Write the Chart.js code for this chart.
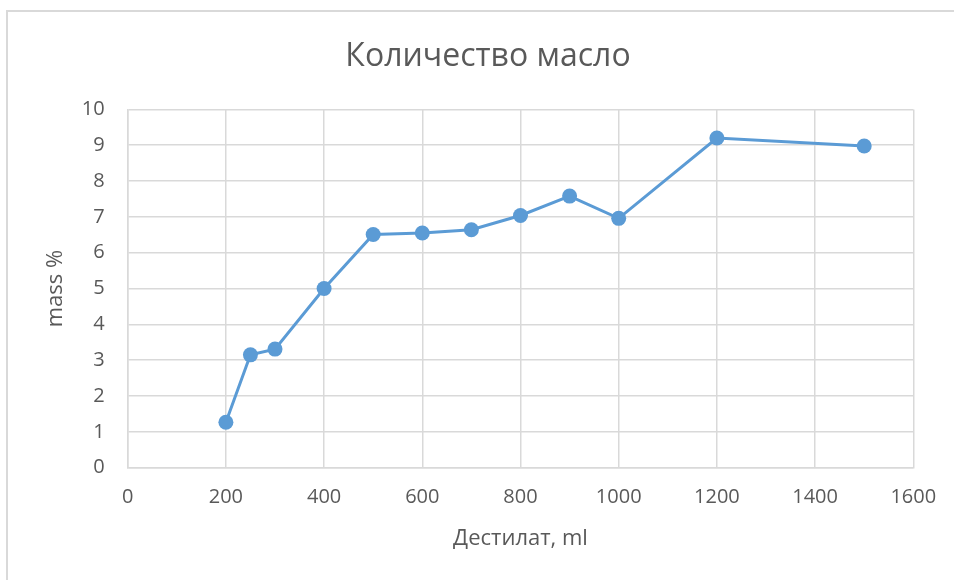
<!DOCTYPE html>
<html>
<head>
<meta charset="utf-8">
<script src="https://cdn.jsdelivr.net/npm/chart.js@4/dist/chart.umd.min.js"></script>
<style>
  html, body { margin: 0; padding: 0; background: #fff; overflow: hidden; }
  #wrap { position: relative; width: 954px; height: 580px; }
  #frame { position: absolute; left: 6px; top: 10px; width: 1000px; height: 1000px;
           border: 2px solid #d9d9d9; box-sizing: border-box; pointer-events: none; }
  canvas { position: absolute; left: 0; top: 0; }
</style>
</head>
<body>
<div id="wrap">
  <div id="frame"></div>
  <canvas id="chart" width="954" height="580"></canvas>
</div>
<script>
// Distillate volume (ml) and oil content (mass %)
const distillateMl = [200, 250, 300, 400, 500, 600, 700, 800, 900, 1000, 1200, 1500];
const oilMassPct   = [1.27, 3.15, 3.31, 5.0, 6.51, 6.55, 6.64, 7.04, 7.58, 6.96, 9.2, 8.98];

const chartTitle = 'Количество масло';
const xAxisTitle = 'Дестилат, ml';
const yAxisTitle = 'mass %';

const textColor = '#595959';
const gridColor = '#d9d9d9';
const lineColor = '#5b9bd5';
const fontFamily = '"Open Sans", "Liberation Sans", sans-serif';

const points = distillateMl.map((x, i) => ({ x: x, y: oilMassPct[i] }));

new Chart(document.getElementById('chart'), {
  type: 'line',
  data: {
    datasets: [{
      data: points,
      borderColor: lineColor,
      backgroundColor: lineColor,
      borderWidth: 3,
      pointRadius: 7.5,
      pointHoverRadius: 7.5,
      pointBackgroundColor: lineColor,
      pointBorderColor: lineColor,
      pointBorderWidth: 0,
      tension: 0,
      fill: false
    }]
  },
  options: {
    responsive: false,
    animation: false,
    layout: { padding: { left: 22, right: 0, top: 0, bottom: 0 } },
    plugins: {
      legend: { display: false },
      tooltip: { enabled: false },
      title: {
        display: true,
        text: chartTitle,
        color: textColor,
        font: { family: fontFamily, size: 32, weight: 'normal', lineHeight: 1.2 },
        padding: { top: 38, bottom: 33 }
      }
    },
    scales: {
      x: {
        type: 'linear',
        min: 0,
        max: 1600,
        border: { color: gridColor, width: 1.5 },
        grid: { color: gridColor, lineWidth: 1.5, drawTicks: false },
        ticks: {
          stepSize: 200,
          color: textColor,
          padding: 17.5,
          maxRotation: 0,
          font: { family: fontFamily, size: 20 },
          callback: (v) => String(v)
        },
        title: {
          display: true,
          text: xAxisTitle,
          color: textColor,
          font: { family: fontFamily, size: 22, lineHeight: 1.2 },
          padding: { top: 0, bottom: 28.3 }
        },
        afterFit: (scale) => { scale.height = 112.3; scale.paddingRight = 40.7; }
      },
      y: {
        type: 'linear',
        min: 0,
        max: 10,
        border: { color: gridColor, width: 1.5 },
        grid: { color: gridColor, lineWidth: 1.5, drawTicks: false },
        ticks: {
          stepSize: 1,
          color: textColor,
          padding: 23,
          font: { family: fontFamily, size: 20 },
          callback: (v) => String(v)
        },
        title: {
          display: true,
          text: yAxisTitle,
          color: textColor,
          font: { family: fontFamily, size: 22, lineHeight: 1.2 },
          padding: { top: 20.8, bottom: 0 }
        },
        afterFit: (scale) => { scale.width = 105.7; }
      }
    }
  }
});
</script>
</body>
</html>
